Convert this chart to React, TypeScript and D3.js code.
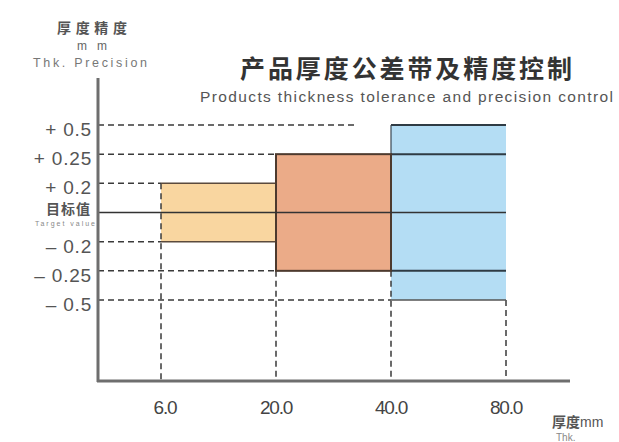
import React from "react";
import * as d3 from "d3";

const thicknessTicks = ["6.0", "20.0", "40.0", "80.0"];
const toleranceLevels = [0.5, 0.25, 0.2, 0, -0.2, -0.25, -0.5];
const toleranceLabels = ["+ 0.5", "+ 0.25", "+ 0.2", "目标值", "– 0.2", "– 0.25", "– 0.5"];
const bandFrom = ["6.0", "20.0", "40.0"];
const bandTo = ["20.0", "40.0", "80.0"];
const bandTolerance = [0.2, 0.25, 0.5];
const bandColors = ["#f9d6a0", "#ebab88", "#b4ddf4"];

const W = 619;
const H = 442;
const axisX = 98;
const axisY = 381;

export default function App() {
  const x = d3.scalePoint<string>().domain(thicknessTicks).range([161, 506]);
  const y = d3.scalePoint<number>().domain(toleranceLevels).range([125, 300]);
  const X = (v: string) => x(v) as number;
  const Y = (v: number) => y(v) as number;

  const dash = "6,4";
  const dashColor = "#3a3a3a";
  const cjk = "'Noto Sans CJK SC', sans-serif";
  const latin = "'Liberation Sans', Arial, sans-serif";

  const hGuides: [number, number][] = [
    [0.5, X("40.0") - 34],
    [0.25, X("20.0")],
    [0.2, X("6.0")],
    [-0.2, X("6.0")],
    [-0.25, X("20.0")],
    [-0.5, X("40.0")],
  ];
  const vGuides: [string, number][] = [
    ["6.0", 0.2],
    ["20.0", -0.25],
    ["40.0", -0.25],
    ["80.0", -0.5],
  ];

  return (
    <svg
      width={W}
      height={H}
      style={{ position: "absolute", left: 0, top: 0, background: "#fff" }}
    >
      {/* header */}
      <text x={57} y={33} textLength={70} fontFamily={cjk} fontWeight={700} fontSize={14} fill="#555">
        厚度精度
      </text>
      <text x={77} y={50} textLength={30} fontFamily={latin} fontSize={12} fill="#666">
        mm
      </text>
      <text x={33} y={67} textLength={114} fontFamily={latin} fontSize={12.5} fill="#777">
        Thk. Precision
      </text>
      <text x={240} y={78} textLength={332} fontFamily={cjk} fontWeight={700} fontSize={25} fill="#333">
        产品厚度公差带及精度控制
      </text>
      <text x={200} y={102} textLength={413} fontFamily={latin} fontSize={15.5} fill="#555">
        Products thickness tolerance and precision control
      </text>

      {/* band fills */}
      {bandFrom.map((f, i) => (
        <rect
          key={"f" + i}
          x={X(f)}
          y={Y(bandTolerance[i])}
          width={X(bandTo[i]) - X(f)}
          height={Y(-bandTolerance[i]) - Y(bandTolerance[i])}
          fill={bandColors[i]}
        />
      ))}

      {/* dashed guides */}
      {hGuides.map(([lv, x2], i) => (
        <line
          key={"h" + i}
          x1={axisX}
          x2={x2}
          y1={Y(lv)}
          y2={Y(lv)}
          stroke={dashColor}
          strokeWidth={1.5}
          strokeDasharray={dash}
        />
      ))}
      {vGuides.map(([t, lv], i) => (
        <line
          key={"v" + i}
          x1={X(t)}
          x2={X(t)}
          y1={Y(lv)}
          y2={axisY}
          stroke={dashColor}
          strokeWidth={1.5}
          strokeDasharray={dash}
        />
      ))}

      {/* solid edges */}
      <line x1={X("6.0")} x2={X("20.0")} y1={Y(0.2)} y2={Y(0.2)} stroke="#5b4a3c" strokeWidth={1.5} />
      <line x1={X("6.0")} x2={X("20.0")} y1={Y(-0.2)} y2={Y(-0.2)} stroke="#5b4a3c" strokeWidth={1.5} />
      <line x1={X("40.0")} x2={X("80.0")} y1={Y(0.5)} y2={Y(0.5)} stroke="#2f3b44" strokeWidth={2} />
      <line x1={X("40.0")} x2={X("40.0")} y1={Y(0.5)} y2={Y(0.25)} stroke="#3a4650" strokeWidth={1.2} />
      <line x1={X("40.0")} x2={X("80.0")} y1={Y(0.25)} y2={Y(0.25)} stroke="#2f3b44" strokeWidth={2} />
      <line x1={X("40.0")} x2={X("80.0")} y1={Y(-0.25)} y2={Y(-0.25)} stroke="#2f3b44" strokeWidth={2} />
      <line x1={X("40.0")} x2={X("80.0")} y1={Y(-0.5)} y2={Y(-0.5)} stroke="#555" strokeWidth={1.5} />
      <rect
        x={X("20.0")}
        y={Y(0.25)}
        width={X("40.0") - X("20.0")}
        height={Y(-0.25) - Y(0.25)}
        fill="none"
        stroke="#4d3a2e"
        strokeWidth={2}
      />
      <line x1={axisX} x2={X("80.0")} y1={Y(0)} y2={Y(0)} stroke="#333" strokeWidth={1.6} />

      {/* axes */}
      <line x1={axisX} x2={axisX} y1={78} y2={axisY + 1} stroke="#6e6e6e" strokeWidth={3} />
      <line x1={axisX - 1} x2={570} y1={axisY} y2={axisY} stroke="#6e6e6e" strokeWidth={3} />

      {/* y tick labels */}
      {toleranceLevels.map((lv, i) =>
        lv === 0 ? (
          <g key={"yl" + i}>
            <text x={46} y={Y(lv) + 1} textLength={44} fontFamily={cjk} fontWeight={700} fontSize={14} fill="#555">
              {toleranceLabels[i]}
            </text>
            <text x={35} y={Y(lv) + 13} textLength={60} fontFamily={latin} fontSize={7} fill="#888">
              Target value
            </text>
          </g>
        ) : (
          <text
            key={"yl" + i}
            x={92}
            y={Y(lv) + 11}
            textAnchor="end"
            fontFamily={latin}
            fontSize={19}
            letterSpacing={0.8}
            fill="#555"
          >
            {toleranceLabels[i]}
          </text>
        )
      )}

      {/* x tick labels */}
      {thicknessTicks.map((t) => (
        <text
          key={"xl" + t}
          x={X(t) + (t === "6.0" ? 4 : 0)}
          y={414}
          textAnchor="middle"
          fontFamily={latin}
          fontSize={19}
          letterSpacing={-1.2}
          fill="#444"
        >
          {t}
        </text>
      ))}

      {/* x axis title */}
      <text x={552} y={427} fontFamily={cjk} fontWeight={700} fontSize={14} fill="#555">
        厚度<tspan fontFamily={latin} fontWeight={400}>mm</tspan>
      </text>
      <text x={556} y={441} fontFamily={latin} fontSize={10} fill="#888">
        Thk.
      </text>
    </svg>
  );
}
